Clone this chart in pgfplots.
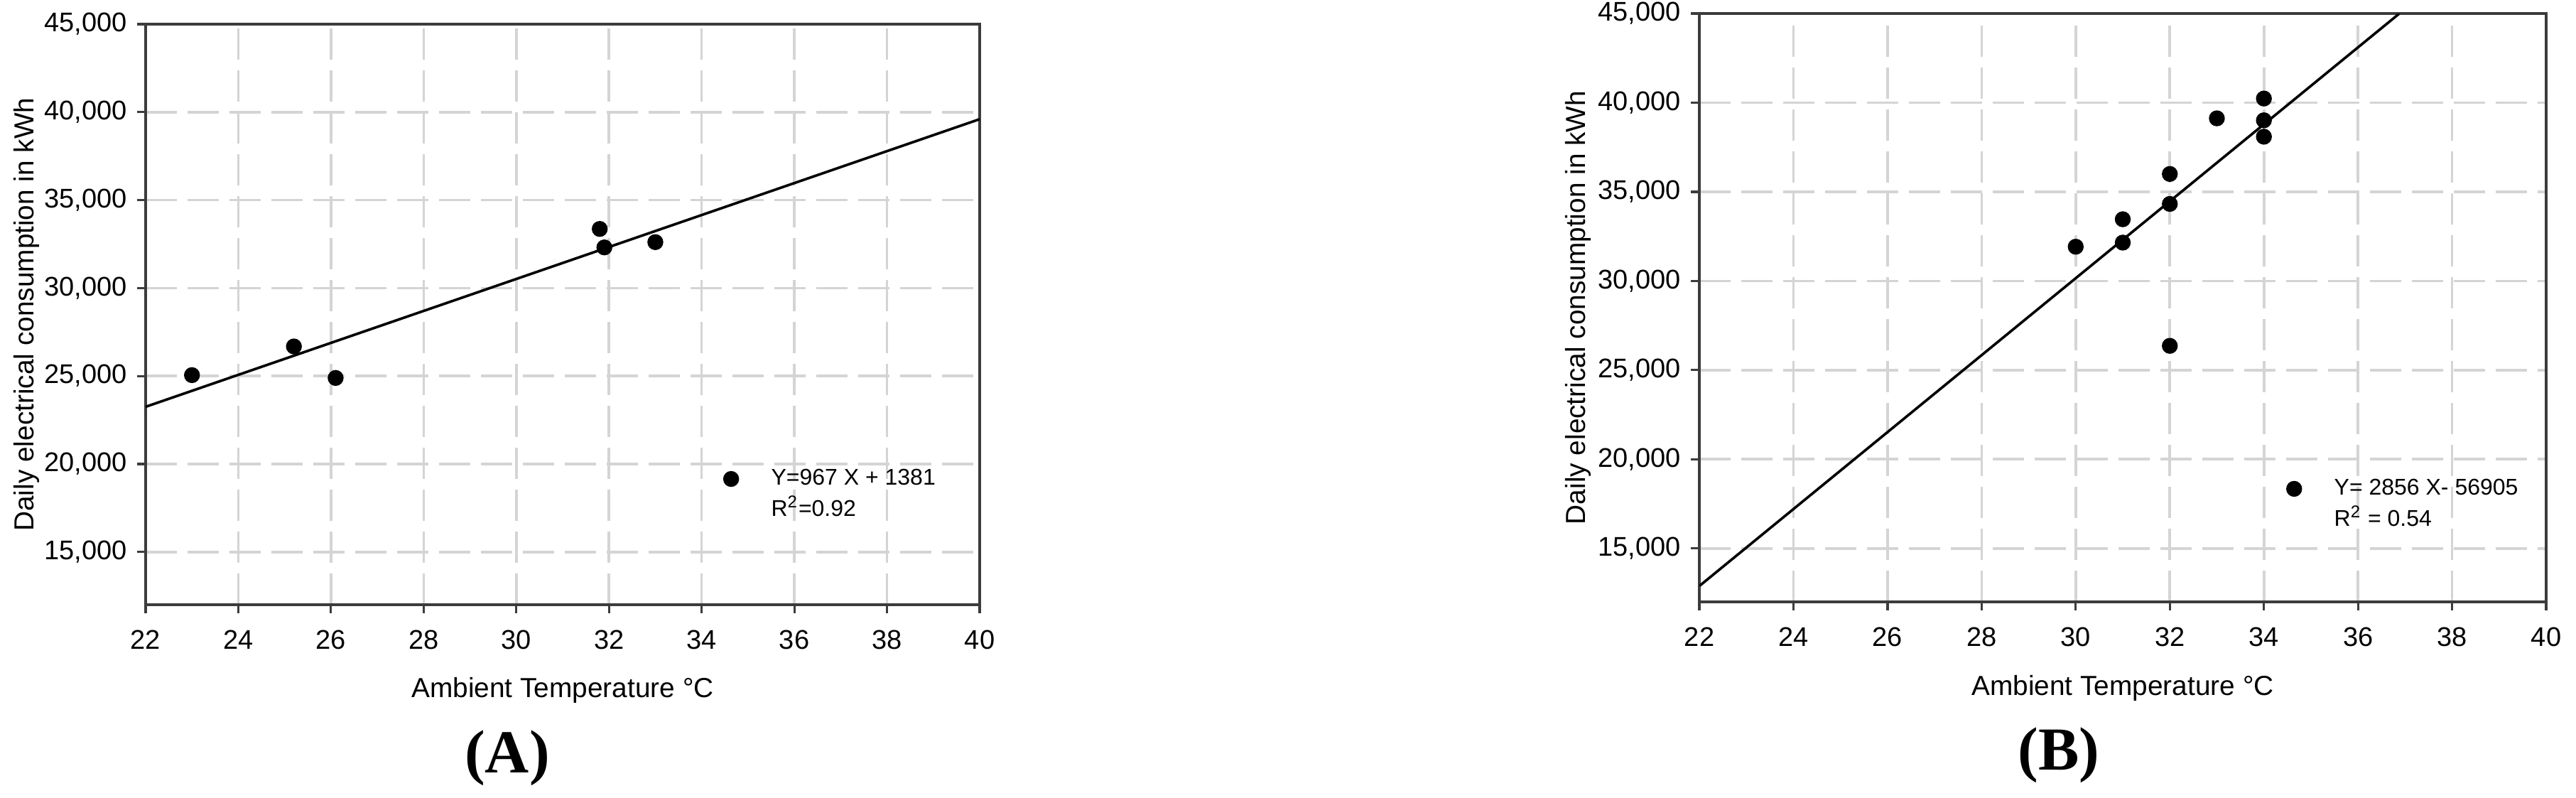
\documentclass[border=0pt]{standalone}
\usepackage{fontspec}
\setmainfont{Liberation Sans}
\newfontfamily\capfont{Liberation Serif}
\usepackage{pgfplots}
\pgfplotsset{compat=1.18}
\definecolor{gridgray}{RGB}{212,212,212}
\definecolor{axgray}{RGB}{60,60,60}

% shared look of both panels
\pgfplotsset{
  tempstyle/.style={
    scale only axis,
    xmin=22, xmax=40, ymin=12000, ymax=45000,
    xtick={22,24,26,28,30,32,34,36,38,40},
    ytick={15000,20000,25000,30000,35000,40000,45000},
    scaled y ticks=false,
    /pgf/number format/1000 sep={,},
    /pgf/number format/assume math mode=true,
    grid=major,
    major grid style={draw=gridgray, line width=0.9pt, dash pattern=on 11pt off 3.75pt},
    axis line style={draw=axgray, line width=0.8pt},
    tick style={draw=axgray, line width=0.8pt},
    major tick length=3pt,
    tick align=outside,
    xtick pos=left, ytick pos=left,
    tick label style={font=\fontsize{9.5}{11}\selectfont},
    label style={font=\fontsize{9.7}{11}\selectfont},
    xticklabel style={yshift=-2.5pt},
    xlabel={Ambient Temperature °C},
    ylabel={Daily electrical consumption in kWh},
    xlabel style={at={(axis description cs:0.5,-0.147)}, anchor=center},
    legend cell align=left,
    legend style={draw=none, fill=none, font=\fontsize{8}{9.5}\selectfont,
                  anchor=north west, row sep=-1.5pt,
                  /tikz/every odd column/.append style={column sep=9.5pt}},
  },
}

\begin{document}
\begin{tikzpicture}
\useasboundingbox (0,0) rectangle (906.5pt,280.75pt);

% ---------------- panel A
\begin{axis}[tempstyle,
    at={(51.25pt,68pt)}, anchor=south west,
    width=293.5pt, height=204.25pt,
    ylabel style={at={(axis description cs:-0.1431,0.5)}, anchor=center},
    legend style={at={(axis description cs:0.662,0.2545)}},
  ]
\addplot[black, line width=0.9pt, forget plot] coordinates {(22,23250) (40,39600)};
\addplot[only marks, mark=*, mark size=2.6pt, black] coordinates {
  (23.0,25050) (25.2,26680) (26.1,24890)
  (31.8,33360) (31.9,32310) (33.0,32610)};
\addlegendentry{Y=967 X + 1381}
\addlegendimage{empty legend}
\addlegendentry{R\textsuperscript{2}=0.92}
\end{axis}

% ---------------- panel B
\begin{axis}[tempstyle,
    at={(598pt,69pt)}, anchor=south west,
    width=298pt, height=207pt,
    ylabel style={at={(axis description cs:-0.1435,0.5)}, anchor=center},
    legend style={at={(axis description cs:0.663,0.2295)}},
  ]
\addplot[black, line width=0.9pt, forget plot] coordinates {(22,12890) (36.88,45000)};
\addplot[only marks, mark=*, mark size=2.6pt, black] coordinates {
  (30,31920) (31,32150) (31,33460) (32,34320) (32,36000)
  (32,26360) (33,39120) (34,40230) (34,39010) (34,38090)};
\addlegendentry{Y= 2856 X- 56905}
\addlegendimage{empty legend}
\addlegendentry{R\textsuperscript{2} = 0.54}
\end{axis}

\node[font=\capfont\bfseries\fontsize{21.5}{24}\selectfont] at (178.5pt,14pt) {(A)};
\node[font=\capfont\bfseries\fontsize{21.5}{24}\selectfont] at (724.5pt,15pt) {(B)};
\end{tikzpicture}
\end{document}
